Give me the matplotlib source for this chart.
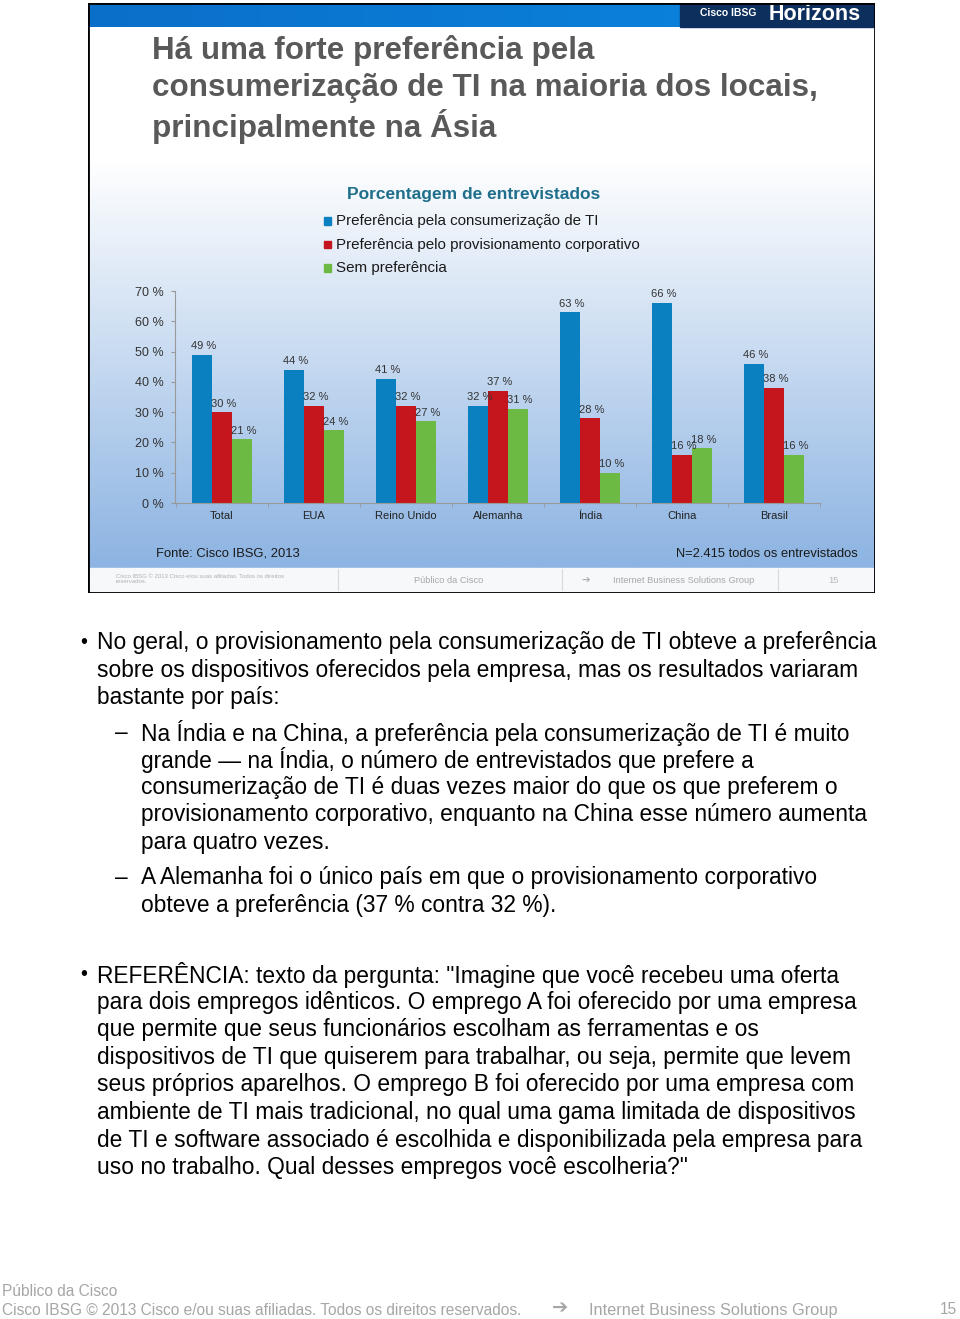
# Recreation of the Cisco IBSG slide page: bar chart + notes text
import numpy as np
import matplotlib.pyplot as plt
from matplotlib.patches import Rectangle
from matplotlib.colors import LinearSegmentedColormap

plt.rcParams['font.family'] = ['Liberation Sans', 'DejaVu Sans']

# chart data
countries = ["Total", "EUA", "Reino Unido", "Alemanha", "Índia", "China", "Brasil"]
consumerizacao = [49, 44, 41, 32, 63, 66, 46]
provisionamento = [30, 32, 32, 37, 28, 16, 38]
sem_preferencia = [21, 24, 27, 31, 10, 18, 16]
series_names = ["Preferência pela consumerização de TI",
                "Preferência pelo provisionamento corporativo",
                "Sem preferência"]
y_ticks = [0, 10, 20, 30, 40, 50, 60, 70]

title_lines = ["Há uma forte preferência pela",
               "consumerização de TI na maioria dos locais,",
               "principalmente na Ásia"]

bullet1 = ["No geral, o provisionamento pela consumerização de TI obteve a preferência",
           "sobre os dispositivos oferecidos pela empresa, mas os resultados variaram",
           "bastante por país:"]
sub1 = ["Na Índia e na China, a preferência pela consumerização de TI é muito",
        "grande — na Índia, o número de entrevistados que prefere a",
        "consumerização de TI é duas vezes maior do que os que preferem o",
        "provisionamento corporativo, enquanto na China esse número aumenta",
        "para quatro vezes."]
sub2 = ["A Alemanha foi o único país em que o provisionamento corporativo",
        "obteve a preferência (37 % contra 32 %)."]
bullet2 = ["REFERÊNCIA: texto da pergunta: \"Imagine que você recebeu uma oferta",
           "para dois empregos idênticos. O emprego A foi oferecido por uma empresa",
           "que permite que seus funcionários escolham as ferramentas e os",
           "dispositivos de TI que quiserem para trabalhar, ou seja, permite que levem",
           "seus próprios aparelhos. O emprego B foi oferecido por uma empresa com",
           "ambiente de TI mais tradicional, no qual uma gama limitada de dispositivos",
           "de TI e software associado é escolhida e disponibilizada pela empresa para",
           "uso no trabalho. Qual desses empregos você escolheria?\""]

W, H = 960, 1319
fig = plt.figure(figsize=(W / 100, H / 100), dpi=100)


def px(x, y):
    return x / W, 1 - y / H


def txt(x, y, s, **kw):
    kw.setdefault('va', 'center')
    fig.text(*px(x, y), s, **kw)


# slide background (gradient white -> light blue)
bg = fig.add_axes([88 / W, 1 - 593 / H, (875 - 88) / W, (593 - 3) / H])
bg.set_xlim(88, 875)
bg.set_ylim(593, 3)
bg.axis('off')
grad = np.ones((400, 1))
rows = np.linspace(3, 593, 400)
grad[:, 0] = np.clip((rows - 160) / (565 - 160), 0, 1)
cmap = LinearSegmentedColormap.from_list('slide', ['#ffffff', '#8db4e2'])
bg.imshow(grad, extent=[88, 875, 593, 3], cmap=cmap, aspect='auto', vmin=0, vmax=1)
# top blue bar
bar_grad = np.linspace(0, 1, 200).reshape(1, -1)
bcmap = LinearSegmentedColormap.from_list('bar', ['#0b6fc9', '#0a86e0'])
bg.imshow(bar_grad, extent=[88, 875, 27, 3], cmap=bcmap, aspect='auto')
bg.add_patch(Rectangle((680, 3), 195, 24, color='#0d2f5e', zorder=3))
bg.text(700, 13, "Cisco IBSG", color='white', fontsize=7.5, fontweight='bold', va='center', zorder=4)
bg.text(769, 15, "Horizons", color='white', fontsize=15.5, fontweight='bold', va='center', zorder=4)
# inner footer strip
bg.add_patch(Rectangle((90, 568), 783, 23, color='#f7f8fa', zorder=3))
for xd in [338, 562, 778]:
    bg.plot([xd, xd], [569, 590], color='#d8d8d8', lw=0.8, zorder=4)
bg.text(116, 579, "Cisco IBSG © 2013 Cisco e/ou suas afiliadas. Todos os direitos\nreservados.",
        fontsize=4.3, color='#b0b0b0', va='center', zorder=5, linespacing=1.1)
bg.text(449, 580, "Público da Cisco", fontsize=6.7, color='#a8a8a8', va='center', ha='center', zorder=5)
bg.text(586, 580, "➔", fontsize=7.5, color='#b0b0b0', va='center', ha='center', zorder=5)
bg.text(684, 580, "Internet Business Solutions Group", fontsize=6.7, color='#a8a8a8', va='center', ha='center', zorder=5)
bg.text(833, 580, "15", fontsize=6.7, color='#b8b8b8', va='center', ha='center', zorder=5)
bg.add_patch(Rectangle((88, 3), 787, 590, fill=False, edgecolor='black', lw=2, zorder=6))

# slide title
for i, line in enumerate(title_lines):
    txt(152, 50 + 38 * i, line, fontsize=22.6, fontweight='bold', color='#595959')

# chart title + legend
txt(474, 194, "Porcentagem de entrevistados", fontsize=12.5, fontweight='bold', color='#1f6f8b', ha='center')
colors = ['#0a80c0', '#c4161c', '#6cb944']
for i, (name, c) in enumerate(zip(series_names, colors)):
    y = 221 + 23.5 * i
    fig.patches.append(Rectangle(px(324, y + 3.5), 7 / W, 7 / H, color=c, transform=fig.transFigure))
    txt(336, y, name, fontsize=10.9, color='#1a1a1a')

# bar chart
ax = fig.add_axes([175 / W, 1 - 503 / H, (820 - 175) / W, (503 - 291) / H])
ax.patch.set_alpha(0)
x = np.arange(len(countries))
w = 0.22
for off, vals, c in zip([-w, 0, w], [consumerizacao, provisionamento, sem_preferencia], colors):
    bars = ax.bar(x + off, vals, width=w * 0.98, color=c)
    for b, v in zip(bars, vals):
        ax.text(b.get_x() + b.get_width() / 2 + 0.02, v + 1.2, f"{v} %", ha='center', va='bottom',
                fontsize=8, color='#333333')
ax.set_xlim(-0.51, 6.48)
ax.set_ylim(0, 70)
ax.set_yticks(y_ticks)
ax.set_yticklabels([f"{t} %" for t in y_ticks], fontsize=9, color='#333333')
ax.set_xticks(x)
ax.set_xticklabels(countries, fontsize=8, color='#222222')
ax.tick_params(axis='x', length=0, pad=6)
ax.set_xticks(np.arange(-0.5, 7, 1), minor=True)
ax.tick_params(axis='x', which='minor', length=3, color='#999999')
ax.tick_params(axis='y', length=3, color='#999999', pad=5)
for s in ['top', 'right']:
    ax.spines[s].set_visible(False)
for s in ['left', 'bottom']:
    ax.spines[s].set_color('#999999')

txt(156, 554, "Fonte: Cisco IBSG, 2013", fontsize=9.4, color='#1a1a1a')
txt(858, 554, "N=2.415 todos os entrevistados", fontsize=9.3, color='#1a1a1a', ha='right')

# notes text
fs = 16.4
dy = 1.5
txt(80, 641 + dy, "•", fontsize=fs - 2)
for i, line in enumerate(bullet1):
    txt(97, 641 + dy + 27.7 * i, line, fontsize=fs)
txt(115, 731 + dy, "–", fontsize=fs)
for i, line in enumerate(sub1):
    txt(141, 731 + dy + 27.5 * i, line, fontsize=fs)
txt(115, 876 + dy, "–", fontsize=fs)
for i, line in enumerate(sub2):
    txt(141, 876 + dy + 27.7 * i, line, fontsize=fs)
txt(80, 973 + dy, "•", fontsize=fs - 2)
for i, line in enumerate(bullet2):
    txt(97, 973 + dy + 27.6 * i, line, fontsize=fs)

# page footer
txt(2, 1292, "Público da Cisco", fontsize=11.2, color='#a6a6a6')
txt(2, 1310, "Cisco IBSG © 2013 Cisco e/ou suas afiliadas. Todos os direitos reservados.",
    fontsize=11.2, color='#a6a6a6')
txt(560, 1309, "➔", fontsize=14, color='#a6a6a6', ha='center')
txt(589, 1310, "Internet Business Solutions Group", fontsize=11.8, color='#a6a6a6')
txt(957, 1310, "15", fontsize=11.2, color='#a6a6a6', ha='right')

fig.savefig("out.png", dpi=100)
